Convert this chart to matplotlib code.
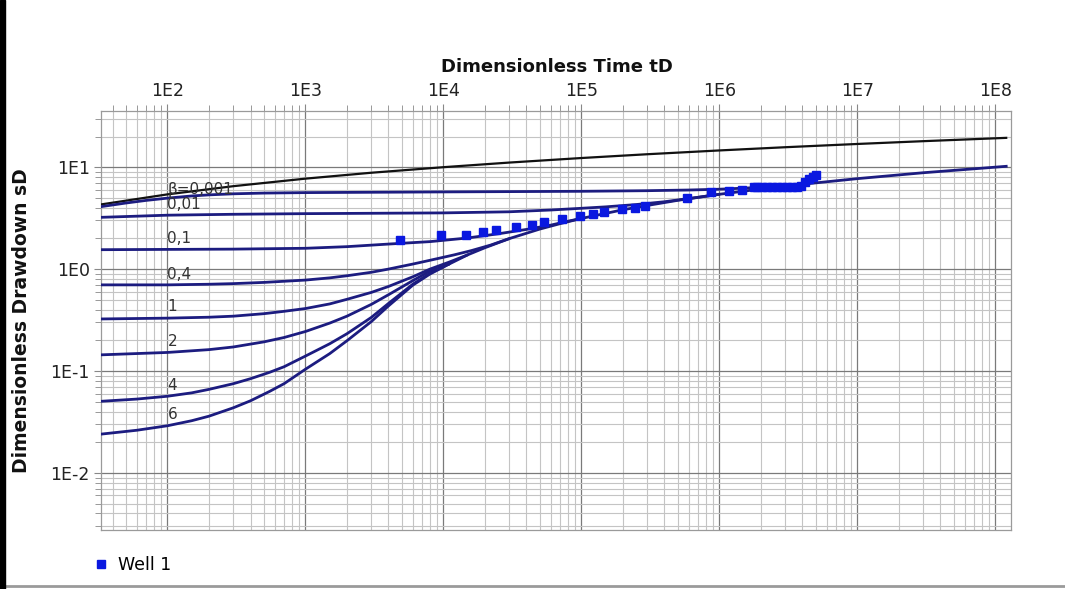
import numpy as np
import matplotlib
matplotlib.use("Agg")
import matplotlib.pyplot as plt
from matplotlib.ticker import FixedLocator, LogLocator, FuncFormatter, NullFormatter
from matplotlib.patches import Rectangle
from matplotlib.lines import Line2D

# ---------------------------------------------------------------- data
# early-time (type A) curve, black
td_a = [33, 100, 300, 1e3, 3e3, 1e4, 3e4, 1e5, 3e5, 1e6, 3e6, 1e7, 3e7, 1.2e8]
sd_a = [4.31, 5.41, 6.51, 7.72, 8.82, 10.0, 11.1, 12.3, 13.4, 14.6, 15.7, 16.9, 18.0, 19.4]

# late-time envelope that all beta curves join
td_late = [1.1e4, 1.5e4, 2e4, 3e4, 5e4, 7e4, 1e5, 2e5, 3e5, 5e5, 1e6, 2e6, 4e6, 1e7, 3e7, 1.2e8]
sd_late = [1.12, 1.38, 1.62, 1.99, 2.47, 2.79, 3.14, 3.82, 4.21, 4.73, 5.42, 6.11, 6.80, 7.72, 8.82, 10.2]

# beta curves up to the point where they merge with the late envelope
td_b0001 = [33, 50, 70, 100, 150, 200, 300, 500, 1e3, 1e4, 1e5, 3e5, 6e5, 1e6, 1.6e6, 2.5e6, 4e6]
sd_b0001 = [4.10, 4.45, 4.72, 4.97, 5.22, 5.35, 5.48, 5.57, 5.63, 5.72, 5.80, 5.88, 5.97, 6.08, 6.25, 6.48, 6.80]

td_b001 = [33, 100, 300, 1e3, 1e4, 3e4, 6e4, 1e5, 1.5e5, 2.5e5, 4e5, 6e5, 1e6]
sd_b001 = [3.22, 3.38, 3.45, 3.50, 3.56, 3.65, 3.80, 3.95, 4.08, 4.30, 4.58, 4.92, 5.42]

td_b01 = [33, 100, 300, 1e3, 2e3, 4e3, 8e3, 1.5e4, 2.5e4, 4e4, 6e4, 8e4, 1e5]
sd_b01 = [1.55, 1.56, 1.57, 1.60, 1.66, 1.76, 1.86, 2.02, 2.22, 2.45, 2.70, 2.95, 3.14]

td_b04 = [33, 100, 200, 300, 500, 1e3, 1.5e3, 2e3, 3e3, 4e3, 6e3, 8e3, 1.2e4, 1.6e4, 2.2e4, 3e4]
sd_b04 = [0.70, 0.70, 0.71, 0.72, 0.74, 0.78, 0.82, 0.86, 0.93, 1.00, 1.12, 1.22, 1.38, 1.52, 1.72, 1.99]

td_b1 = [33, 100, 200, 300, 500, 700, 1e3, 1.5e3, 2e3, 3e3, 4e3, 6e3, 8e3, 1.1e4, 1.5e4]
sd_b1 = [0.324, 0.33, 0.337, 0.345, 0.365, 0.385, 0.41, 0.455, 0.505, 0.59, 0.675, 0.84, 1.0, 1.17, 1.38]

td_b2 = [33, 100, 200, 300, 500, 700, 1e3, 1.5e3, 2e3, 3e3, 4e3, 6e3, 8e3, 1.1e4]
sd_b2 = [0.144, 0.152, 0.162, 0.172, 0.193, 0.213, 0.244, 0.295, 0.345, 0.45, 0.56, 0.77, 0.96, 1.13]

td_b4 = [33, 60, 100, 150, 200, 300, 400, 550, 700, 1e3, 1.5e3, 2e3, 3e3, 4e3, 6e3, 8e3, 1.1e4]
sd_b4 = [0.0504, 0.053, 0.0565, 0.061, 0.066, 0.075, 0.084, 0.097, 0.110, 0.140, 0.185, 0.232,
         0.335, 0.46, 0.71, 0.91, 1.125]

td_b6 = [33, 60, 100, 150, 200, 300, 400, 550, 700, 1e3, 1.5e3, 2e3, 3e3, 4e3, 6e3, 8e3, 1.1e4]
sd_b6 = [0.024, 0.0262, 0.029, 0.0325, 0.036, 0.0435, 0.051, 0.063, 0.075, 0.104, 0.148, 0.198,
         0.305, 0.435, 0.695, 0.895, 1.12]

beta_labels = ["\u03b2=0,001", "0,01", "0,1", "0,4", "1", "2", "4", "6"]

# observed data, Well 1
well_td = [4880, 9680, 14500, 19400, 24200, 33800, 43900, 53300, 72400, 97200,
           121600, 146800, 196000, 245000, 291000, 583000, 875000, 1.17e6, 1.46e6, 1.77e6,
           1.88e6, 2.05e6, 2.23e6, 2.42e6, 2.63e6, 2.86e6, 3.11e6, 3.38e6, 3.67e6,
           3.93e6, 4.2e6, 4.5e6, 4.8e6, 5.0e6]
well_sd = [1.91, 2.15, 2.18, 2.32, 2.40, 2.57, 2.71, 2.89, 3.11, 3.33,
           3.47, 3.62, 3.90, 4.02, 4.17, 5.04, 5.68, 5.84, 5.99, 6.40,
           6.45, 6.45, 6.45, 6.42, 6.42, 6.42, 6.42, 6.42, 6.45,
           6.6, 7.1, 7.6, 8.0, 8.3]

x_major = [1e2, 1e3, 1e4, 1e5, 1e6, 1e7, 1e8]
y_major = [1e-2, 1e-1, 1e0, 1e1]

# ---------------------------------------------------------------- figure
W, H = 1065, 589
fig = plt.figure(figsize=(W / 100, H / 100), dpi=100)
ax = fig.add_axes([101 / W, 1 - 530 / H, 910 / W, 419 / H])

navy = "#1c1c80"
ax.plot(td_a, sd_a, color="#111111", lw=1.6, zorder=3)
ax.plot(td_late, sd_late, color=navy, lw=2.0, zorder=3)

curves = [(td_b0001, sd_b0001), (td_b001, sd_b001), (td_b01, sd_b01), (td_b04, sd_b04),
          (td_b1, sd_b1), (td_b2, sd_b2), (td_b4, sd_b4), (td_b6, sd_b6)]
for td, sd in curves:
    ax.plot(td, sd, color=navy, lw=2.0, zorder=3, solid_capstyle="round")

# curve labels, left edge at tD = 100
label_y = [5.99, 4.27, 1.98, 0.879, 0.427, 0.194, 0.0718, 0.0373]
for txt, yv in zip(beta_labels, label_y):
    ax.text(100, yv, txt, fontsize=11, color="#333333", ha="left", va="center", zorder=4)

ax.plot(well_td, well_sd, ls="none", marker="s", ms=6, color="#0a18e0", mec="#0a18e0", zorder=5)

ax.set_xscale("log")
ax.set_yscale("log")
ax.set_xlim(33, 1.3e8)
ax.set_ylim(2.75e-3, 35.6)

fmt = FuncFormatter(lambda v, p: "1E%d" % int(round(np.log10(v))))
ax.xaxis.set_major_locator(FixedLocator(x_major))
ax.yaxis.set_major_locator(FixedLocator(y_major))
ax.xaxis.set_minor_locator(LogLocator(base=10, subs=np.arange(2, 10), numticks=40))
ax.yaxis.set_minor_locator(LogLocator(base=10, subs=np.arange(2, 10), numticks=40))
ax.xaxis.set_major_formatter(fmt)
ax.yaxis.set_major_formatter(fmt)
ax.xaxis.set_minor_formatter(NullFormatter())
ax.yaxis.set_minor_formatter(NullFormatter())

ax.xaxis.tick_top()
ax.tick_params(axis="both", which="both", direction="out", colors="#888888",
               labelcolor="#222222", labelsize=12.5)
ax.tick_params(axis="x", which="major", length=5, pad=3, top=True, bottom=False)
ax.tick_params(axis="x", which="minor", length=4, top=True, bottom=False)
ax.tick_params(axis="y", which="major", length=5, pad=3, left=True, right=False)
ax.tick_params(axis="y", which="minor", length=4, left=True, right=False)

ax.grid(True, which="major", color="#7a7a7a", lw=0.9)
ax.grid(True, which="minor", color="#c4c4c4", lw=0.8)
ax.set_axisbelow(True)
for s in ax.spines.values():
    s.set_color("#9a9a9a")
    s.set_linewidth(0.9)

ax.xaxis.set_label_position("top")
ax.set_xlabel("Dimensionless Time tD", fontsize=13, fontweight="bold", color="#111111")
ax.xaxis.set_label_coords(0.5005, 1.093)
ax.set_ylabel("Dimensionless Drawdown sD", fontsize=13.5, fontweight="bold", color="#111111")
ax.yaxis.set_label_coords(-0.077, 0.5)

handle = Line2D([], [], ls="none", marker="s", ms=6, color="#0a18e0")
fig.legend([handle], ["Well 1"], loc="center left", bbox_to_anchor=(92 / W, 1 - 565 / H),
           frameon=False, fontsize=12.5, handlelength=1.0, handletextpad=0.5,
           borderpad=0, borderaxespad=0)

# window frame bits of the screenshot
fig.patches.append(Rectangle((0, 0), 5 / W, 1, transform=fig.transFigure,
                             color="black", zorder=10))
fig.lines.append(Line2D([5 / W, 1], [1 - 586 / H, 1 - 586 / H], transform=fig.transFigure,
                        color="#9a9a9a", lw=2))

fig.savefig("out.png", dpi=100)
